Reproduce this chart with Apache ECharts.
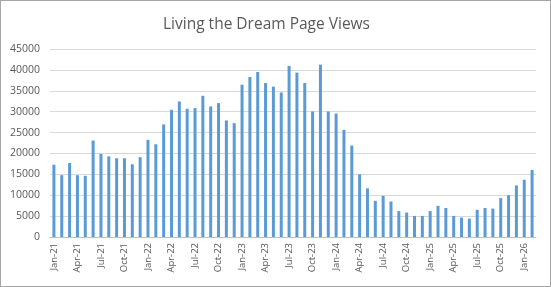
<!DOCTYPE html>
<html><head><meta charset="utf-8">
<script src="https://cdn.jsdelivr.net/npm/echarts@6/dist/echarts.min.js"></script>
<style>
html,body{margin:0;padding:0;background:#fff;}
#c{position:absolute;left:0;top:0;width:549px;height:285px;border:1px solid #a6a6a6;}
</style></head>
<body><div id="c"></div>
<script>
const months = ["Jan","Feb","Mar","Apr","May","Jun","Jul","Aug","Sep","Oct","Nov","Dec"];
const years = ["21","22","23","24","25","26"];
const categories = [];
for (const y of years) for (const m of months) { if (categories.length < 62) categories.push(m + "-" + y); }

const views2021 = [17300, 14800, 17700, 14800, 14650, 23100, 19900, 19300, 18850, 18850, 17400, 19100];
const views2022 = [23250, 22200, 26950, 30450, 32450, 30700, 30850, 33800, 31250, 32050, 27900, 27250];
const views2023 = [36450, 38300, 39500, 36850, 36000, 34600, 40950, 39350, 36850, 30050, 41250, 30050];
const views2024 = [29550, 25650, 21900, 15000, 11650, 8650, 9850, 8500, 6200, 5850, 5050, 5050];
const views2025 = [6200, 7450, 6950, 5050, 4650, 4400, 6500, 6950, 6800, 9300, 10000, 12350];
const views2026 = [13700, 16050];
const pageViews = [].concat(views2021, views2022, views2023, views2024, views2025, views2026);

const yTicks = [0, 5000, 10000, 15000, 20000, 25000, 30000, 35000, 40000, 45000];

const chart = echarts.init(document.getElementById('c'), null, {renderer:'canvas'});
chart.setOption({
  animation:false,
  title:{text:"Living the Dream Page Views", left:157, top:11,
    textStyle:{fontFamily:"Open Sans", fontSize:15.5, fontWeight:'normal', color:'#595959'}},
  grid:{left:49, right:14, top:48, bottom:49, containLabel:false},
  xAxis:{type:'category', data:categories, boundaryGap:true,
    axisLine:{lineStyle:{color:'#bfbfbf'}},
    axisTick:{interval:2, length:5, lineStyle:{color:'#bfbfbf'}},
    axisLabel:{interval:2, rotate:90, fontFamily:"Open Sans", fontSize:9.5, color:'#595959', margin:6}},
  yAxis:{type:'value', min:yTicks[0], max:yTicks[yTicks.length-1], interval:5000,
    axisLine:{show:false}, axisTick:{show:false},
    splitLine:{lineStyle:{color:'#d9d9d9'}},
    axisLabel:{fontFamily:"Open Sans", fontSize:10.5, color:'#595959', margin:10,
      formatter:function(v){return String(v);}}},
  series:[{type:'bar', data:pageViews, barWidth:3, itemStyle:{color:'#5b9bd5'}}]
});
</script></body></html>
